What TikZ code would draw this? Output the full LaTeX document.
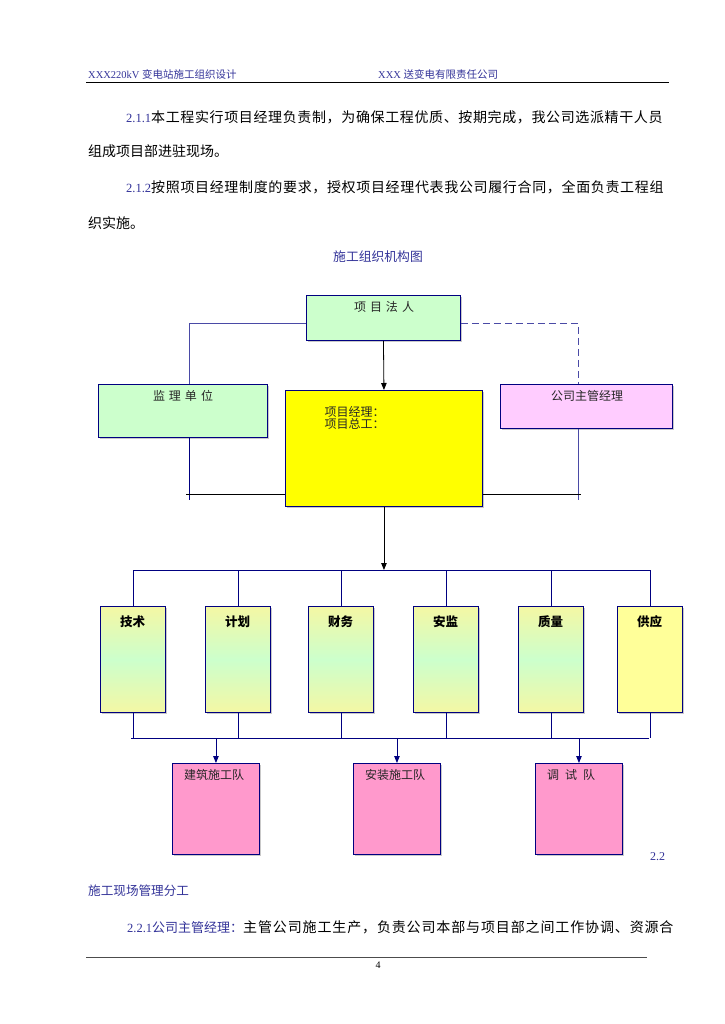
\documentclass[tikz,border=0pt]{standalone}
\usepackage{fontspec}
\setmainfont{Liberation Serif}
\newfontfamily\cjk{Noto Sans CJK SC}
\usetikzlibrary{arrows.meta,shadows}
\definecolor{navy}{HTML}{000080}
\definecolor{tblue}{HTML}{333399}
\definecolor{lgreen}{HTML}{CCFFCC}
\definecolor{lpink}{HTML}{FFCCFF}
\definecolor{mpink}{HTML}{FF99CC}
\definecolor{lyellow}{HTML}{FFFF99}
\definecolor{pyellow}{HTML}{F4F7A4}
\definecolor{lnav}{HTML}{4A4AA6}
\definecolor{yel}{HTML}{FFFF00}
\newcommand\fs[1]{\fontsize{#1}{#1}\selectfont}
\begin{document}
\begin{tikzpicture}[x=1pt,y=-1pt,
  box/.style={draw=navy, line width=0.9pt, inner sep=0pt, anchor=north west,
    drop shadow={shadow xshift=1.2pt, shadow yshift=-1.2pt, fill=black!35, opacity=0.6}},
  lab/.style={inner sep=0pt, font=\cjk\fs{12}, text=black!85},
  dlab/.style={inner sep=0pt, font=\cjk\bfseries\fs{12.5}, text=black},
  body/.style={inner sep=0pt, anchor=west, font=\fs{14}},
  hdr/.style={inner sep=0pt, anchor=west, font=\fs{10.5}, text=tblue},
  lcon/.style={draw=lnav, line width=0.9pt},
  ncon/.style={draw=navy, line width=0.8pt},
  blk/.style={draw=black, line width=0.8pt},
  tip/.style={-{Triangle[width=5.5pt,length=7pt]}},
  dgrad/.style={top color=pyellow, bottom color=pyellow, middle color=lgreen},
  dplain/.style={fill=lyellow}]
\useasboundingbox[fill=white] (0,0) rectangle (724,1024);

% ---------- header ----------
\node[hdr] (h1) at (88,74) {XXX220kV \cjk 变电站施工组织设计};
\node[hdr] (h2) at (378,74) {XXX {\cjk 送变电有限责任公司}};
\coordinate (hl1) at (86,82.5);
\coordinate (hl2) at (669,82.5);
\draw[line width=1.3pt] (hl1) -- (hl2);

% ---------- paragraphs ----------
\node[body] (p1) at (126,117.5) {{\fs{12.5}\color{tblue}2.1.1}{\cjk\addfontfeature{LetterSpace=4.5}本工程实行项目经理负责制，为确保工程优质、按期完成，我公司选派精干人员}};
\node[body] (p2) at (88,151) {\cjk 组成项目部进驻现场。};
\node[body] (p3) at (126,187.5) {{\fs{12.5}\color{tblue}2.1.2}{\cjk\addfontfeature{LetterSpace=4.7}按照项目经理制度的要求，授权项目经理代表我公司履行合同，全面负责工程组}};
\node[body] (p4) at (88,223) {\cjk 织实施。};
\node[inner sep=0pt, font=\cjk\fs{12.8}, text=tblue] (title) at (378,257) {施工组织机构图};

% ---------- top level ----------
\node[box, fill=lgreen, minimum width=154, minimum height=45] (fr) at (306,295) {};
\node[lab] (frt) at (384,307) {项\hspace{4pt}目\hspace{4pt}法\hspace{4pt}人};
\node[box, fill=lgreen, minimum width=169, minimum height=53] (jl) at (98,384) {};
\node[lab] (jlt) at (183,396) {监\hspace{4pt}理\hspace{4pt}单\hspace{4pt}位};
\node[box, fill=yel, minimum width=197, minimum height=116] (pm) at (285,390) {};
\node[lab, anchor=west] (pmt1) at (324.5,411.5) {项目经理：};
\node[lab, anchor=west] (pmt2) at (324.5,424) {项目总工：};
\node[box, fill=lpink, minimum width=172, minimum height=44] (gs) at (500,384) {};
\node[lab] (gst) at (587,396) {公司主管经理};

\coordinate (lA) at (189,323);
\coordinate (rA) at (578,323);
\coordinate (lB) at (189,500);
\coordinate (rB) at (578,500);
\coordinate (hL) at (186,494);
\coordinate (hR) at (581,494);
\draw[lcon] (fr.west |- lA) -- (lA) -- (lA |- jl.north);
\draw[lcon, dash pattern=on 7pt off 4pt] (fr.east |- rA) -- (rA) -- (rA |- gs.north);
\draw[blk, tip] (fr.south) -- (pm.north);
\draw[ncon] (lA |- jl.south) -- (lB);
\draw[lcon] (rA |- gs.south) -- (rB);
\draw[blk] (hL) -- (hL -| pm.west);
\draw[blk] (hR -| pm.east) -- (hR);

% ---------- departments ----------
\coordinate (b1L) at (133,570);
\coordinate (b1R) at (651,570);
\coordinate (b2L) at (131,738);
\coordinate (b2R) at (649,738);
\draw[blk, tip] (pm.south) -- (pm.south |- b1L);
\draw[ncon] (b1L) -- (b1R);
\draw[ncon] (b2L) -- (b2R);
\foreach \nm/\lx/\tx/\st in {d1/100/技术/dgrad, d2/205/计划/dgrad, d3/308/财务/dgrad, d4/413/安监/dgrad, d5/518/质量/dgrad, d6/617/供应/dplain}{
  \node[box, \st, minimum width=65, minimum height=106] (\nm) at (\lx,606) {};
  \node[dlab] (\nm t) at (\lx+32.5,621.5) {\tx};
  \draw[ncon] (\nm.north |- b1L) -- (\nm.north);
  \draw[ncon] (\nm.south) -- (\nm.south |- b2L);
}

% ---------- teams ----------
\node[box, fill=mpink, minimum width=87, minimum height=91] (t1) at (172,763) {};
\node[lab] (t1t) at (214,775) {建筑施工队};
\node[box, fill=mpink, minimum width=87, minimum height=91] (t2) at (353,763) {};
\node[lab] (t2t) at (395,775) {安装施工队};
\node[box, fill=mpink, minimum width=87, minimum height=91] (t3) at (535,763) {};
\node[lab] (t3t) at (571,775) {调\hspace{6pt}试\hspace{6pt}队};
\foreach \t in {t1,t2,t3}{
  \draw[ncon, tip] (\t.north |- b2L) -- (\t.north);
}

% ---------- lower text ----------
\node[inner sep=0pt, anchor=west, font=\fs{12}, text=tblue] (n22) at (650,857) {2.2};
\node[inner sep=0pt, anchor=west, font=\cjk\fs{12.6}, text=tblue] (s22) at (88,891) {施工现场管理分工};
\node[body] (p5) at (127,927) {{\fs{12.5}\color{tblue}2.2.1}{\cjk\fs{13}\color{tblue}公司主管经理：}{\cjk\addfontfeature{LetterSpace=6.2}主管公司施工生产，负责公司本部与项目部之间工作协调、资源合}};
\coordinate (fl1) at (86,957);
\coordinate (fl2) at (647,957);
\draw[draw=black!70, line width=0.8pt] (fl1) -- (fl2);
\node[inner sep=0pt, font=\fs{10}] (pg) at (378,965) {4};
\end{tikzpicture}
\end{document}
